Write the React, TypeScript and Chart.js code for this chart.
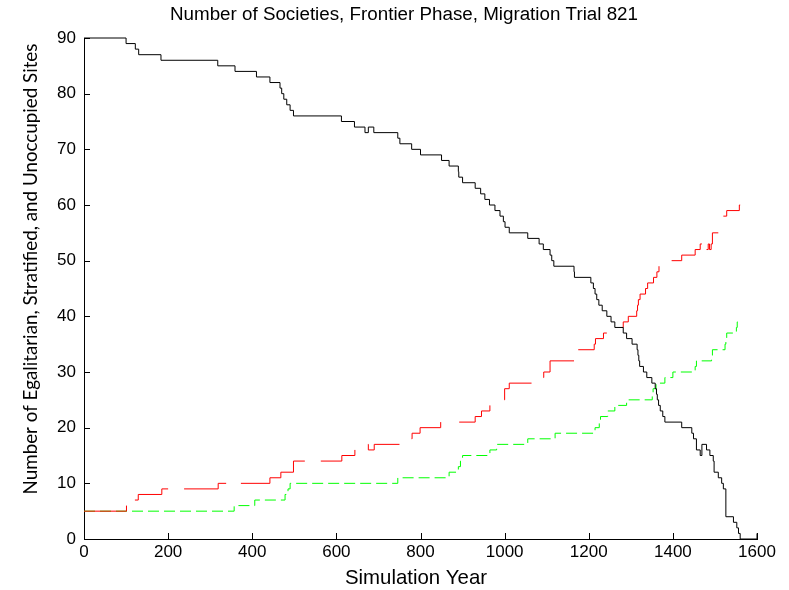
import React, { useEffect, useRef } from "react";
import { Chart, registerables } from "chart.js";

Chart.register(...registerables);

const TITLE = "Number of Societies, Frontier Phase, Migration Trial 821";
const X_LABEL = "Simulation Year";
const Y_LABEL = "Number of Egalitarian, Stratified, and Unoccupied Sites";
const X_TICKS = [0, 200, 400, 600, 800, 1000, 1200, 1400, 1600];
const Y_TICKS = [0, 10, 20, 30, 40, 50, 60, 70, 80, 90];

// Black: unoccupied sites (value holds from the given year on)
const unoccupiedYears = [0, 100, 122, 130, 183, 318, 359, 410, 442, 466, 470, 475, 482, 490, 498, 612, 643, 668, 676, 689, 746, 751, 779, 800, 850, 868, 890, 891, 900, 930, 943, 953, 964, 977, 989, 997, 1001, 1011, 1055, 1082, 1092, 1108, 1112, 1117, 1165, 1166, 1205, 1211, 1215, 1219, 1224, 1232, 1243, 1253, 1262, 1282, 1290, 1303, 1315, 1317, 1319, 1321, 1330, 1338, 1350, 1358, 1361, 1363, 1366, 1370, 1376, 1381, 1421, 1445, 1449, 1456, 1465, 1469, 1480, 1488, 1496, 1498, 1508, 1516, 1520, 1526, 1544, 1552, 1556, 1560, 1598, 1600];
const unoccupiedCounts = [90, 89, 88, 87, 86, 85, 84, 83, 82, 81, 80, 79, 78, 77, 76, 75, 74, 73, 74, 73, 72, 71, 70, 69, 68, 67, 66, 65, 64, 63, 62, 61, 60, 59, 58, 57, 56, 55, 54, 53, 52, 51, 50, 49, 48, 47, 46, 45, 44, 43, 42, 41, 40, 39, 38, 37, 36, 35, 34, 33, 32, 31, 30, 29, 28, 27, 26, 25, 24, 23, 22, 21, 20, 19, 18, 16, 15, 17, 16, 15, 14, 12, 11, 10, 9, 4, 3, 2, 1, 0, 0, 1];

// Red: broken solid line (null = gap in the drawn line)
const egalitarianYears = [0, 101, 101.5, 121, 129, 185, 200, 200.5, 238, 319, 338, 338.5, 373, 442, 468, 498, 525, 525.5, 563, 613, 644, 644.5, 675, 676, 690, 750, 750.5, 779, 780, 799, 848, 848.5, 892, 930, 945, 965, 965.5, 999, 1000, 1011, 1064, 1064.5, 1092, 1093, 1108, 1165, 1165.5, 1175, 1213, 1216, 1235, 1243, 1243.5, 1278, 1282, 1294, 1314, 1316, 1318, 1322, 1335, 1340, 1354, 1362, 1367, 1367.5, 1397, 1421, 1453, 1465, 1469, 1469.5, 1480, 1484, 1487, 1491, 1494, 1508, 1508.5, 1520, 1528, 1558, 1560];
const egalitarianCounts = [5, 6, null, 7, 8, 9, 9, null, 9, 10, 10, null, 10, 11, 12, 14, 14, null, 14, 15, 16, null, 17, 16, 17, 17, null, 18, 19, 20, 21, null, 21, 22, 23, 24, null, 25, 27, 28, 28, null, 29, 30, 32, 32, null, 34, 35, 36, 37, 37, null, 38, 39, 40, 41, 42, 43, 44, 45, 46, 47, 48, 49, null, 50, 51, 52, 53, 53, null, 52, 53, 52, 53, 55, 55, null, 58, 59, 60, 60];

// Green: dashed line
const stratifiedYears = [0, 357, 406, 478, 485, 490, 746, 868, 890, 895, 900, 965, 981, 1055, 1120, 1215, 1225, 1228, 1245, 1262, 1290, 1351, 1353, 1360, 1381, 1400, 1453, 1456, 1492, 1494, 1524, 1526, 1528, 1551, 1553, 1560];
const stratifiedCounts = [5, 6, 7, 8, 9, 10, 11, 12, 13, 14, 15, 16, 17, 18, 19, 20, 21, 22, 23, 24, 25, 26, 27, 28, 29, 30, 31, 32, 33, 34, 35, 36, 37, 38, 39, 39];

const pts = (xs: number[], ys: (number | null)[]) => xs.map((x, i) => ({ x, y: ys[i] }));

const TICK_FONT = { family: "'Liberation Sans', Arial, sans-serif", size: 17 };

const decor = {
  id: "decor",
  afterDraw(chart: any) {
    const { ctx, chartArea: a, scales } = chart;
    const xs = scales.x;
    const ys = scales.y;
    ctx.save();
    ctx.strokeStyle = "#000";
    ctx.lineWidth = 1;
    ctx.beginPath();
    X_TICKS.forEach((v) => {
      const px = Math.round(xs.getPixelForValue(v)) + 0.5;
      ctx.moveTo(px, a.bottom);
      ctx.lineTo(px, a.bottom - 6);
    });
    Y_TICKS.forEach((v) => {
      const py = Math.round(ys.getPixelForValue(v)) + 0.5;
      ctx.moveTo(a.left, py);
      ctx.lineTo(a.left + 6, py);
    });
    ctx.stroke();
    ctx.fillStyle = "#000";
    ctx.textAlign = "center";
    ctx.textBaseline = "middle";
    ctx.font = "18.8px 'Liberation Sans', Arial, sans-serif";
    ctx.fillText(TITLE, 404, 15);
    ctx.font = "20.4px 'Liberation Sans', Arial, sans-serif";
    ctx.fillText(X_LABEL, 416, 578);
    ctx.translate(31, 269);
    ctx.rotate(-Math.PI / 2);
    ctx.font = "18.8px Lato, sans-serif";
    ctx.fillText(Y_LABEL, 0, 0);
    ctx.restore();
  },
};

export default function App() {
  const ref = useRef<HTMLCanvasElement | null>(null);
  useEffect(() => {
    if (!ref.current) return;
    const chart = new Chart(ref.current, {
      type: "line",
      data: {
        datasets: [
          {
            label: "Unoccupied",
            data: pts(unoccupiedYears, unoccupiedCounts),
            borderColor: "#000000",
            borderWidth: 1,
            pointRadius: 0,
            stepped: "before",
            fill: false,
            order: 0,
            clip: false,
          },
          {
            label: "Egalitarian",
            data: pts(egalitarianYears, egalitarianCounts),
            borderColor: "#ff0000",
            borderWidth: 1,
            pointRadius: 0,
            stepped: "before",
            fill: false,
            spanGaps: false,
            order: 1,
          },
          {
            label: "Stratified",
            data: pts(stratifiedYears, stratifiedCounts),
            borderColor: "#00ff00",
            borderWidth: 1,
            borderDash: [11, 5],
            pointRadius: 0,
            stepped: "before",
            fill: false,
            order: 2,
          },
        ] as any,
      },
      options: {
        animation: false,
        responsive: false,
        devicePixelRatio: 1,
        layout: { padding: { top: 38, right: 32, bottom: 0, left: 0 } },
        plugins: {
          legend: { display: false },
          tooltip: { enabled: false },
          title: { display: false },
        },
        scales: {
          x: {
            type: "linear",
            min: 0,
            max: 1600,
            afterFit: (s: any) => {
              s.height = 51;
            },
            afterBuildTicks: (s: any) => {
              s.ticks = X_TICKS.map((value) => ({ value }));
            },
            grid: { display: false, drawTicks: false },
            border: { display: true, color: "#000", width: 1 },
            ticks: {
              padding: 3,
              color: "#000",
              font: TICK_FONT,
              maxRotation: 0,
              callback: (v: any) => String(v),
            },
          },
          y: {
            type: "linear",
            min: 0,
            max: 90,
            afterFit: (s: any) => {
              s.width = 84;
            },
            afterBuildTicks: (s: any) => {
              s.ticks = Y_TICKS.map((value) => ({ value }));
            },
            grid: { display: false, drawTicks: false },
            border: { display: true, color: "#000", width: 1 },
            ticks: { padding: 8, color: "#000", font: TICK_FONT, callback: (v: any) => String(v) },
          },
        },
      } as any,
      plugins: [decor],
    });
    return () => chart.destroy();
  }, []);
  return (
    <div style={{ position: "absolute", left: 0, top: 0, width: 789, height: 590, background: "#fff" }}>
      <canvas ref={ref} width={789} height={590} />
    </div>
  );
}
